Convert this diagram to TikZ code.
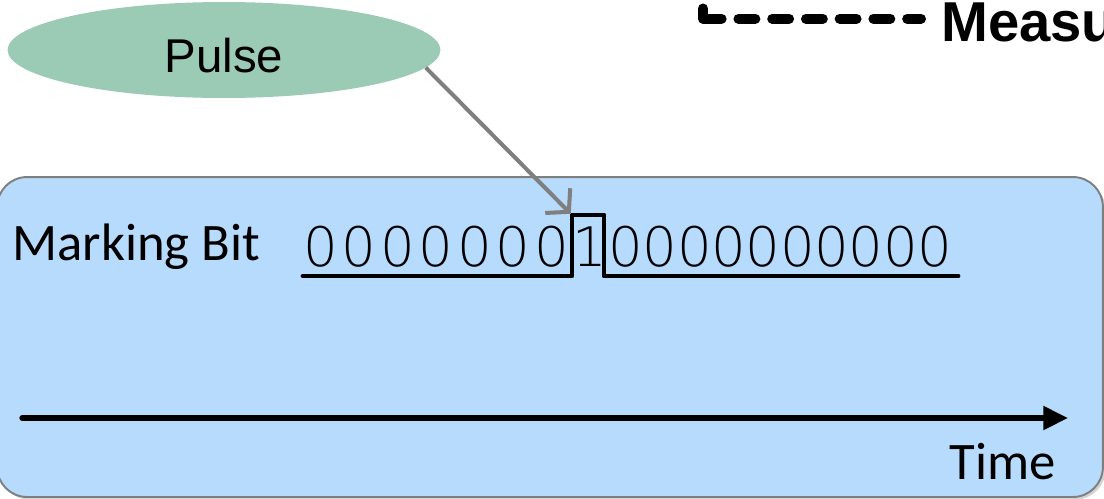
\documentclass[tikz,border=0pt]{standalone}
\usepackage{fontspec}
\setmainfont{Carlito}
\newfontfamily\arialfont{Liberation Sans}
\newfontfamily\bitfont{DejaVu Sans ExtraLight}
\usepackage{xcolor,tikz}
\usetikzlibrary{positioning,calc,arrows.meta,shapes.geometric,shadows}
\definecolor{mbBlueFill}{HTML}{B7DBFD}
\definecolor{mbGreyLine}{HTML}{7F7F7F}
\definecolor{mbGreenFill}{HTML}{9BCBB5}
\tikzset{
  frame box/.style={
    rectangle, rounded corners=0.6cm,
    fill=mbBlueFill, draw=mbGreyLine, line width=1.1pt,
    drop shadow={opacity=0.35, shadow xshift=1.5pt, shadow yshift=-1.5pt},
    minimum width=22.12cm, minimum height=6.4cm, inner sep=0pt,
  },
  pulse blob/.style={
    ellipse, fill=mbGreenFill, draw=none,
    minimum width=8.66cm, minimum height=1.92cm, inner sep=0pt,
    text height=26pt, text depth=0.2pt,
    font=\arialfont\fontsize{27pt}{32pt}\selectfont,
  },
  big label/.style={
    inner sep=0pt, font=\fontsize{30pt}{35pt}\selectfont,
  },
  bit digit/.style={
    inner sep=0pt, anchor=base, font=\bitfont\fontsize{31pt}{36pt}\selectfont,
  },
  bit line/.style={
    line width=2.8pt, line join=round, line cap=round,
  },
  pulse arrow/.style={
    -{Straight Barb[length=9pt, width=20pt]},
    line width=2.3pt, color=mbGreyLine,
    shorten >=1pt,
  },
  time arrow/.style={
    -{Triangle[length=14pt, width=13pt]},
    line width=3pt, line cap=round,
  },
  measure line/.style={
    line width=5.7pt, line cap=round, line join=round,
    dash pattern=on 16.4pt off 9.6pt on 9.6pt off 9.6pt on 9.6pt off 9.6pt
      on 9.6pt off 9.6pt on 9.6pt off 9.6pt on 9.6pt off 9.6pt on 9.6pt off 30pt,
  },
}

\begin{document}
\begin{tikzpicture}[x=0.02cm, y=-0.02cm]

\useasboundingbox (0,0) rectangle (1104,498);

% --- FRAME ---
\node[frame box] (frame) at (550,337) {};

% --- PULSE ---
\node[pulse blob] (pulse) at (224,50) {Pulse};

% --- MEASUREMENT HEADER ---
\coordinate (mtop) at (703,8.5);
\coordinate (mend) at (921,18.7);
\node[inner sep=0pt, anchor=base west,
      font=\arialfont\bfseries\fontsize{32pt}{36pt}\selectfont]
  (measure) at (941,41.7) {Measu};
\draw[measure line] (mtop) |- (mend);

% --- MARKING BIT ---
\node[big label, anchor=base west] (mark) at (12,260) {Marking Bit};

\foreach \k in {0,...,6}
  \node[bit digit] (lo\k) at ({320.5+38.5*\k},266) {0};
\node[bit digit] (hi) at (589.5,266) {1};
\foreach \k in {0,...,9}
  \node[bit digit] (tail\k) at ({626+34.3*\k},266) {0};

% waveform under the bits
\draw[bit line] (303,276) -- (572,276) -- (572,215) coordinate (rise)
  -- (604,215) -- (604,276) -- (958,276);

\draw[pulse arrow] (pulse.-5) -- (rise);

% --- TIME AXIS ---
\coordinate (t0) at (22,418);
\coordinate (t1) at (1068,418);
\draw[time arrow] (t0) -- (t1);
\node[big label, anchor=base east] (time) at (1056,479) {Time};

\end{tikzpicture}
\end{document}
